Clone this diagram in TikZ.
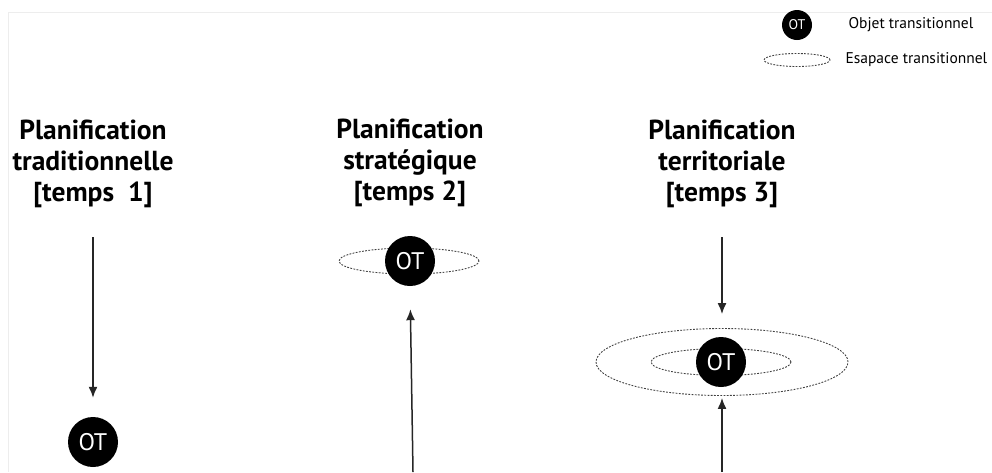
\documentclass[tikz,border=0pt]{standalone}
\usepackage{fontspec}
\setmainfont{PT Sans}
\usetikzlibrary{arrows.meta,shapes.geometric}

\begin{document}
\begin{tikzpicture}[x=1pt, y=-1pt, >={Latex[length=11pt,width=9pt]},
  ot/.style={circle, fill=black, text=white, minimum size=50pt, inner sep=0pt, font=\fontsize{24}{24}\selectfont},
  espace/.style={ellipse, draw=black!75, line width=0.9pt, dash pattern=on 1.8pt off 1.4pt, inner sep=0pt},
  titre/.style={align=center, font=\bfseries\fontsize{27.5}{31}\selectfont},
  legende/.style={anchor=west, font=\fontsize{15.5}{15.5}\selectfont},
  fleche/.style={->, line width=1.5pt, black!85}]
\useasboundingbox (0,0) rectangle (992,472);
\draw[black!7, line width=1pt] (8,472) -- (8,12) -- (992,12);

% legende
\node[ot, minimum size=30pt, font=\fontsize{14}{14}\selectfont] (otL) at (797,25) {OT};
\node[espace, minimum width=66pt, minimum height=13pt] (eL) at (797,60) {};
\node[legende] (lotL) at (845,25) {Objet transitionnel};
\node[legende] (leL) at (842,60) {Esapace transitionnel};

% titres
\node[titre] (t1) at (93,164) {Planification\\traditionnelle\\{[temps~~1]}};
\node[titre] (t2) at (410,163) {Planification\\stratégique\\{[temps 2]}};
\node[titre] (t3) at (722,164) {Planification\\territoriale\\{[temps 3]}};

% temps 1
\node[ot] (ot1) at (93,442) {OT};
\coordinate (a1) at (93,237);
\draw[fleche, shorten >=19pt] (a1) -- (ot1);

% temps 2
\node[espace, minimum width=140pt, minimum height=26pt] (e2) at (409,261) {};
\node[ot] (ot2) at (410,261) {OT};
\coordinate (b2) at (413,472);
\draw[fleche, shorten >=23pt] (b2) -- (ot2.south);

% temps 3
\node[espace, minimum width=252pt, minimum height=67pt] (e3b) at (722,362) {};
\node[espace, minimum width=140pt, minimum height=27pt] (e3a) at (721,362) {};
\node[ot] (ot3) at (721,362) {OT};
\coordinate (a3) at (722,237);
\coordinate (b3) at (722,472);
\draw[fleche, shorten >=14pt] (a3) -- (e3b.north);
\draw[fleche, shorten >=2pt] (b3) -- (e3b.south);
\end{tikzpicture}
\end{document}
